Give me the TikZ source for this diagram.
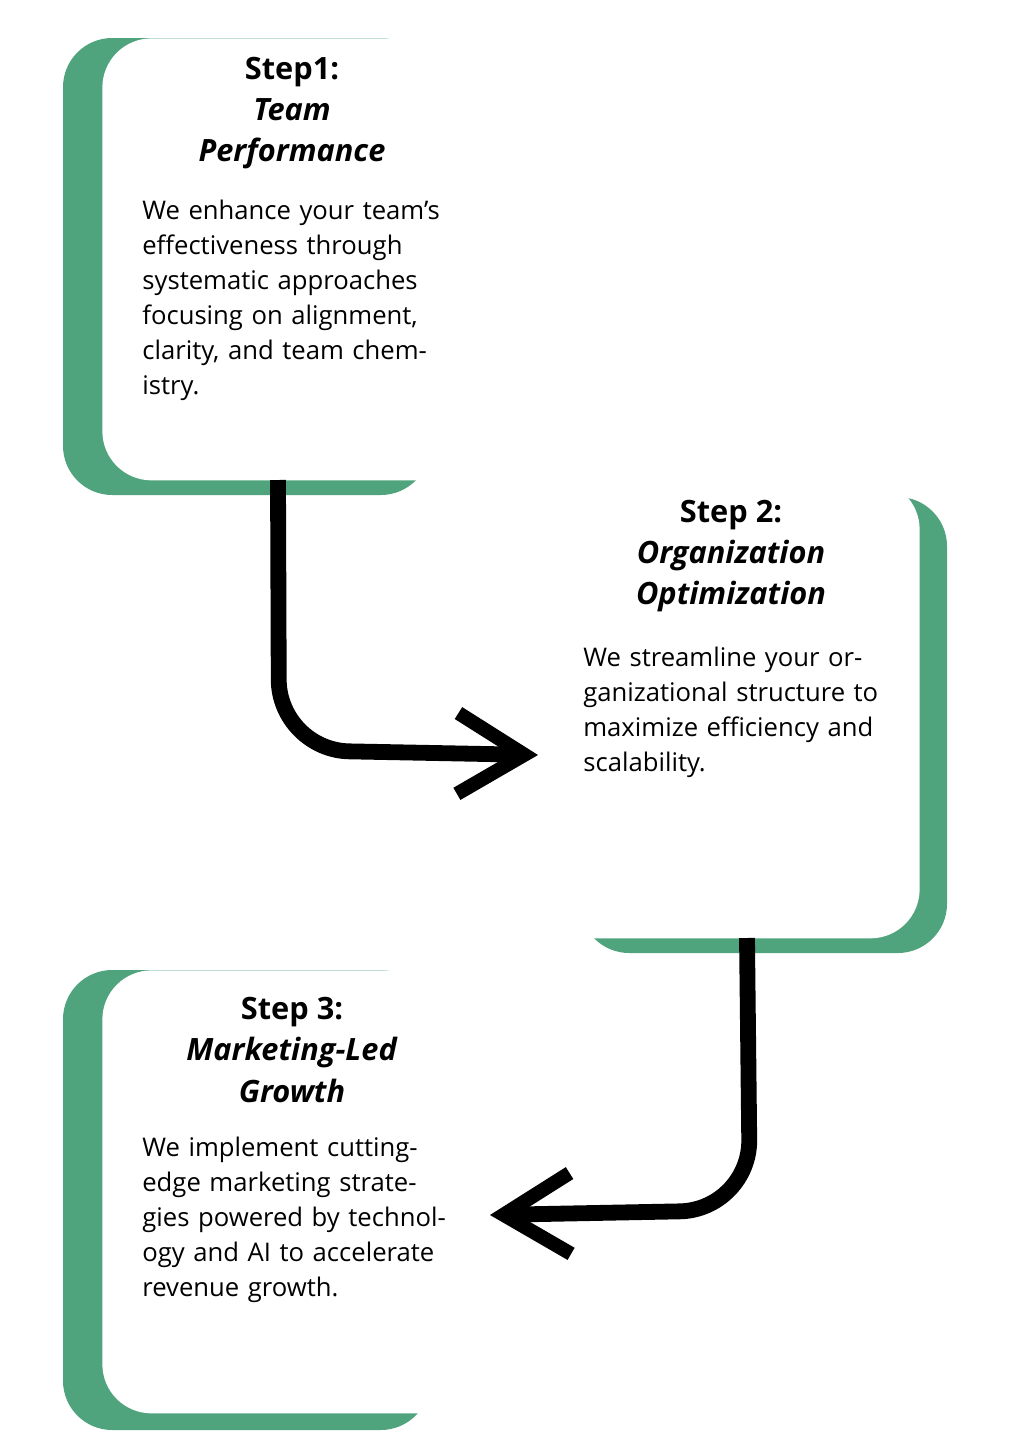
\documentclass[tikz,border=0pt]{standalone}
\usepackage{fontspec}
\setmainfont{Open Sans}
\usetikzlibrary{arrows.meta,positioning}
\definecolor{stepgreen}{RGB}{80,164,125}

\begin{document}
\begin{tikzpicture}[x=0.02cm,y=-0.02cm]
    \tikzset{back card/.style={fill=stepgreen,rounded corners=28pt},
        front card/.style={fill=white,rounded corners=28pt},
        title/.style={align=center,font=\fontsize{17.5}{23.5}\selectfont\bfseries},
        body/.style={align=left,anchor=north west,text width=175pt,inner sep=0pt,
            font=\fontsize{14.6}{19.9}\selectfont},
        flow/.style={line width=9pt,rounded corners=40pt,
            -{Straight Barb[length=38pt,width=46pt,line width=8pt]}}}
    \useasboundingbox[fill=white](0,0) rectangle (1024,1440);
    % cards
    \fill[back card](63,38) rectangle (430,495);
    \node(card1)[front card,minimum width=418*0.02cm,minimum height=442*0.02cm,anchor=north west] at (102,38){};
    \fill[back card](580,497) rectangle (947,953);
    \node(card2)[front card,minimum width=400*0.02cm,minimum height=458*0.02cm,anchor=north east] at (920,480){};
    \fill[back card](63,970) rectangle (430,1430);
    \node(card3)[front card,minimum width=418*0.02cm,minimum height=443*0.02cm,anchor=north west] at (102,970){};
    % texts
    \node(t1)[title] at (292,113){Step1:\\\textit{Team}\\\textit{Performance}};
    \node(b1)[body] at (142,200){We enhance your team's effectiveness through systematic approaches focusing on alignment, clarity, and team chemistry.};
    \node(t2)[title] at (731,556){Step 2:\\\textit{Organization}\\\textit{Optimization}};
    \node(b2)[body] at (583,647){We streamline your organizational structure to maximize efficiency and scalability.};
    \node(t3)[title] at (292,1050){Step 3:\\\textit{Marketing-Led}\\\textit{Growth}};
    \node(b3)[body] at (142,1137){We implement cutting-edge marketing strategies powered by technology and AI to accelerate revenue growth.};
    % connectors
    \coordinate(a1) at (278,480);
    \coordinate(e1) at (538,755);
    \coordinate(a2) at (747,938);
    \coordinate(e2) at (490,1215);
    \draw[flow](a1) -- (279,750) -- (e1);
    \draw[flow](a2) -- (750,1210) -- (e2);
\end{tikzpicture}
\end{document}
